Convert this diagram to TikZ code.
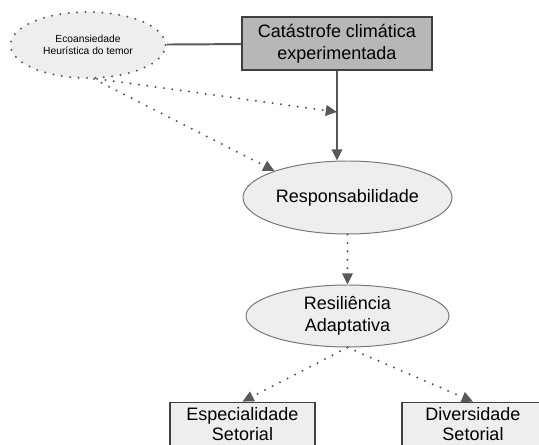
\documentclass[tikz,border=0pt]{standalone}
\usepackage{fontspec}
\setmainfont{Liberation Sans}
\usetikzlibrary{shapes.geometric, positioning, arrows.meta}
\definecolor{linegray}{HTML}{595959}
\definecolor{lightfill}{HTML}{EEEEEE}
\definecolor{darkfill}{HTML}{B7B7B7}
\definecolor{boxborder}{HTML}{404040}
\definecolor{ovalborder}{HTML}{777777}
\tikzset{
	>={Triangle[length=8pt,width=7.5pt]}, % filled triangle heads
	every node/.style={font=\fontsize{12.8}{15.5}\selectfont, align=center, inner sep=0pt}, % main text size
	oval/.style={ellipse, draw=ovalborder, fill=lightfill, line width=0.7pt}, % grey ellipses
	box/.style={rectangle, draw=boxborder, fill=lightfill, line width=1pt}, % rectangles
	link/.style={draw=linegray, line width=1.4pt}, % solid connectors
	dots/.style={draw=linegray, line width=1.6pt, line cap=round, dash pattern=on 0pt off 6pt}, % dotted connectors
}
\begin{document}
\begin{tikzpicture}
	\clip (0,0) rectangle (13.475,-11.125);
	\fill[white] (0,0) rectangle (13.475,-11.125);
			\node[oval, dots, fill=lightfill, minimum width=3.875cm, minimum height=1.65cm,
				font=\fontsize{7.3}{9}\selectfont] at (2.2,-1.125) (eco) {Ecoansiedade\\Heurística do temor};
			\node[box, fill=darkfill, minimum width=4.75cm, minimum height=1.325cm] at (8.425,-1.0875) (cat) {Catástrofe climática\\experimentada};
			\node[oval, minimum width=5.225cm, minimum height=1.825cm] at (8.6875,-4.9375) (resp) {Responsabilidade};
			\node[oval, minimum width=5.075cm, minimum height=1.55cm] at (8.6875,-7.9) (resil) {Resiliência\\Adaptativa};
			\node[box, minimum width=3.625cm, minimum height=1.4cm, anchor=north, inner ysep=4pt,
				font=\fontsize{12.8}{14.2}\selectfont, text depth=30pt] at (6.0625,-10.04) (esp) {Especialidade\\Setorial};
			\node[box, minimum width=3.55cm, minimum height=1.4cm, anchor=north, inner ysep=4pt,
				font=\fontsize{12.8}{14.2}\selectfont, text depth=30pt] at (11.825,-10.04) (div) {Diversidade\\Setorial};
			\coordinate (hit) at (cat.south |- 0,-2.8);
	\draw[link] (eco) -- (cat);
	\draw[link, ->] (cat.south) -- (cat.south |- resp.north);
	\draw[dots, ->] (eco.-75) -- (hit);
	\draw[dots, ->] (eco.-80) -- (resp.160);
	\draw[dots, ->] (resp) -- (resil);
	\draw[dots, ->] (resil.south) -- (esp.north);
	\draw[dots, ->] (resil.south) -- (div.north);
	\end{tikzpicture}
\end{document}
